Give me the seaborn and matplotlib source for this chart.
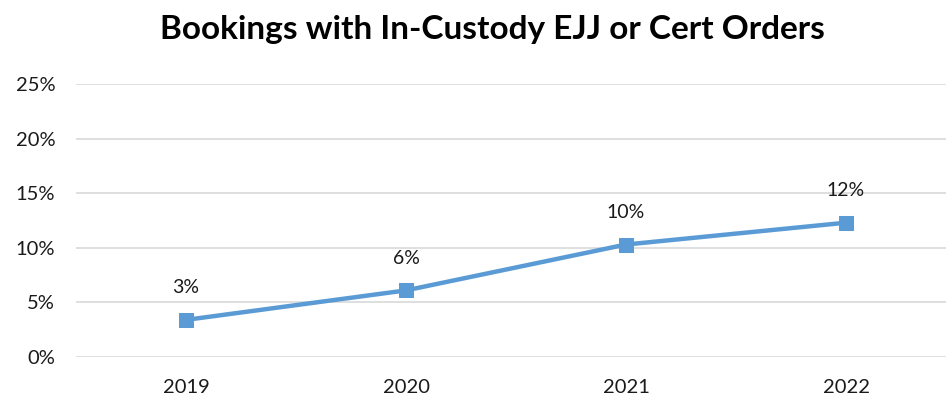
import pandas as pd
import matplotlib.pyplot as plt
import seaborn as sns
from matplotlib.ticker import PercentFormatter

years = ['2019', '2020', '2021', '2022']
pct = [3.4, 6.1, 10.3, 12.3]
labels = ['3%', '6%', '10%', '12%']

sns.set_style('white')
plt.rcParams['font.family'] = ['Lato', 'DejaVu Sans']

df = pd.DataFrame({'year': years, 'pct': pct})

fig = plt.figure(figsize=(9.46, 3.98), dpi=100)
ax = fig.add_axes([76 / 946, 1 - 357 / 398, 880 / 946, 273 / 398])
color = '#5B9BD5'
sns.lineplot(data=df, x='year', y='pct', ax=ax, color=color, linewidth=3.2,
             marker='s', markersize=10, markeredgecolor=color, sort=False)

# data labels above each point
for i, (v, t) in enumerate(zip(pct, labels)):
    ax.annotate(t, (i, v), xytext=(0, 23), textcoords='offset points',
                ha='center', va='center', fontsize=14, color='#1a1a1a')

ax.set_xlim(-0.5, 3.5)
ax.set_ylim(0, 25)
ax.set_yticks([0, 5, 10, 15, 20, 25])
ax.yaxis.set_major_formatter(PercentFormatter(decimals=0))
ax.grid(axis='y', color='#d9d9d9', linewidth=1.2)
ax.set_axisbelow(True)
for s in ax.spines.values():
    s.set_visible(False)
ax.tick_params(axis='both', length=0, labelsize=14.5, colors='#1a1a1a')
ax.tick_params(axis='y', pad=15)
ax.tick_params(axis='x', pad=16)
ax.set_xlabel('')
ax.set_ylabel('')

fig.text(492 / 946, 1 - 30 / 398, 'Bookings with In-Custody EJJ or Cert Orders',
         ha='center', va='center', fontsize=24, fontweight='bold', color='black')

fig.savefig('out.png', dpi=100)
